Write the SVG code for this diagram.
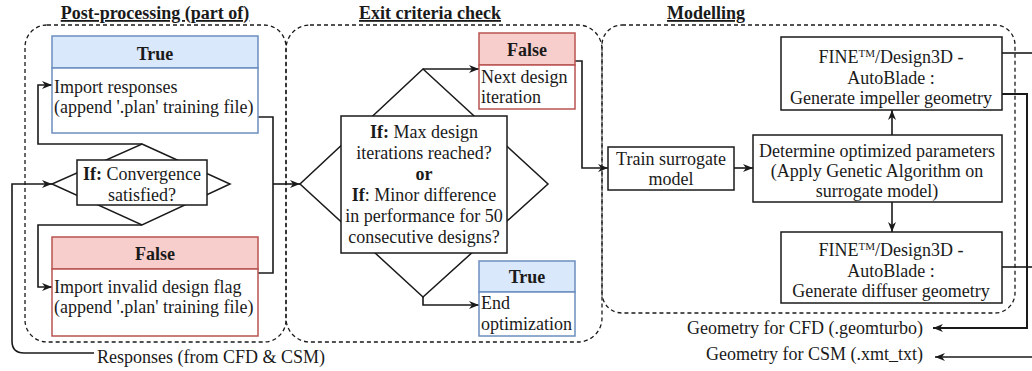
<svg xmlns="http://www.w3.org/2000/svg" width="1032" height="371" viewBox="0 0 1032 371">
<defs>
<marker id="arr" viewBox="0 0 10 8" refX="10" refY="4" markerWidth="10" markerHeight="8" orient="auto" markerUnits="userSpaceOnUse"><path d="M0,0 L10,4 L0,8 L3,4 z" fill="#1a1a1a"/></marker>
<style>
text{font-family:"Liberation Serif","Times New Roman",serif;font-size:18px;fill:#1a1a1a}
.c{text-anchor:middle}
.e{text-anchor:end}
.b{font-weight:bold}
.title{font-weight:bold;text-decoration:underline;text-anchor:middle}
.grp{fill:none;stroke:#1a1a1a;stroke-width:1.3;stroke-dasharray:4 3}
.box{fill:#fff;stroke:#1a1a1a;stroke-width:1.5}
.bh{fill:#dae8fc;stroke:#6c8ebf;stroke-width:1.5}
.bb{fill:#fff;stroke:#6c8ebf;stroke-width:1.5}
.rh{fill:#f8cecc;stroke:#b85450;stroke-width:1.5}
.rb{fill:#fff;stroke:#b85450;stroke-width:1.5}
.dia{fill:#fff;stroke:#1a1a1a;stroke-width:1.5}
.ln{fill:none;stroke:#1a1a1a;stroke-width:1.6}
.ar{marker-end:url(#arr)}
</style>
</defs>

<g id="groups">
<rect class="grp" x="25" y="25" width="261" height="317" rx="22"/>
<rect class="grp" x="286" y="25" width="316" height="317" rx="24"/>
<rect class="grp" x="602" y="25" width="413" height="288" rx="20"/>
<text class="title" x="155" y="19">Post-processing (part of)</text>
<text class="title" x="430" y="19">Exit criteria check</text>
<text class="title" x="706" y="19">Modelling</text>
</g>

<g id="connectors">
<path class="ln ar" d="M142,144 H38 V85 H52"/>
<path class="ln ar" d="M142,225 H38 V287 H52"/>
<path class="ln" d="M258,117 H273 V273 H258"/>
<path class="ln ar" d="M273,184 H300"/>
<path class="ln ar" d="M94,353 H24 Q12,353 12,341 V184 H52"/>
<path class="ln ar" d="M423,69 H479"/>
<path class="ln ar" d="M423,297 V305 H479"/>
<path class="ln ar" d="M575,61 H582 V168 H608"/>
<path class="ln ar" d="M734,168 H753"/>
<path class="ln ar" d="M892,135 V110"/>
<path class="ln ar" d="M892,202 V232"/>
<path class="ln" d="M1002,53 H1032"/>
<path class="ln ar" d="M1002,94 H1027 V328 H933" style="stroke-width:2"/>
<path class="ln" d="M1002,267 H1032"/>
<path class="ln ar" d="M1032,357 H935"/>
<text x="97" y="363">Responses (from CFD &amp; CSM)</text>
<text class="e" x="923" y="334">Geometry for CFD (.geomturbo)</text>
<text class="e" x="923" y="360">Geometry for CSM (.xmt_txt)</text>
</g>

<g id="pp-true">
<rect class="bh" x="52" y="36" width="206" height="32"/>
<rect class="bb" x="52" y="68" width="206" height="65"/>
<text class="c b" x="155" y="60">True</text>
<text x="54" y="93">Import responses</text>
<text x="54" y="113">(append '.plan' training file)</text>
</g>

<g id="pp-convergence">
<polygon class="dia" points="142,144 230,184 142,225 52,184"/>
<rect class="box" x="77" y="160" width="130" height="45"/>
<text class="c" x="142" y="180"><tspan class="b">If:</tspan> Convergence</text>
<text class="c" x="142" y="201">satisfied?</text>
</g>

<g id="pp-false">
<rect class="rh" x="52" y="237" width="206" height="32"/>
<rect class="rb" x="52" y="269" width="206" height="67"/>
<text class="c b" x="155" y="260">False</text>
<text x="54" y="293">Import invalid design flag</text>
<text x="54" y="313">(append '.plan' training file)</text>
</g>

<g id="exit-check">
<polygon class="dia" points="423,69 548,184 423,297 300,184"/>
<rect class="box" x="341" y="116" width="166" height="137"/>
<text class="c" x="424" y="138"><tspan class="b">If:</tspan> Max design</text>
<text class="c" x="424" y="159">iterations reached?</text>
<text class="c b" x="424" y="180">or</text>
<text class="c" x="424" y="201"><tspan class="b">If</tspan>: Minor difference</text>
<text class="c" x="424" y="222">in performance for 50</text>
<text class="c" x="424" y="243">consecutive designs?</text>
</g>

<g id="exit-false">
<rect class="rh" x="479" y="33" width="96" height="32"/>
<rect class="rb" x="479" y="65" width="96" height="44"/>
<text class="c b" x="527" y="56">False</text>
<text x="481" y="83">Next design</text>
<text x="481" y="103">iteration</text>
</g>

<g id="exit-true">
<rect class="bh" x="479" y="261" width="96" height="31"/>
<rect class="bb" x="479" y="292" width="96" height="44"/>
<text class="c b" x="527" y="283">True</text>
<text x="481" y="309">End</text>
<text x="481" y="330">optimization</text>
</g>

<g id="train">
<rect class="box" x="608" y="147" width="126" height="43"/>
<text class="c" x="671" y="165">Train surrogate</text>
<text class="c" x="671" y="185">model</text>
</g>

<g id="determine">
<rect class="box" x="753" y="135" width="249" height="67"/>
<text class="c" x="877" y="157">Determine optimized parameters</text>
<text class="c" x="877" y="177">(Apply Genetic Algorithm on</text>
<text class="c" x="877" y="197">surrogate model)</text>
</g>

<g id="impeller">
<rect class="box" x="781" y="37" width="221" height="73"/>
<text class="c" x="891" y="63">FINE<tspan baseline-shift="super" font-size="11">TM</tspan>/Design3D -</text>
<text class="c" x="891" y="84">AutoBlade :</text>
<text class="c" x="891" y="104">Generate impeller geometry</text>
</g>

<g id="diffuser">
<rect class="box" x="781" y="232" width="221" height="71"/>
<text class="c" x="891" y="256">FINE<tspan baseline-shift="super" font-size="11">TM</tspan>/Design3D -</text>
<text class="c" x="891" y="277">AutoBlade :</text>
<text class="c" x="891" y="297">Generate diffuser geometry</text>
</g>
</svg>
